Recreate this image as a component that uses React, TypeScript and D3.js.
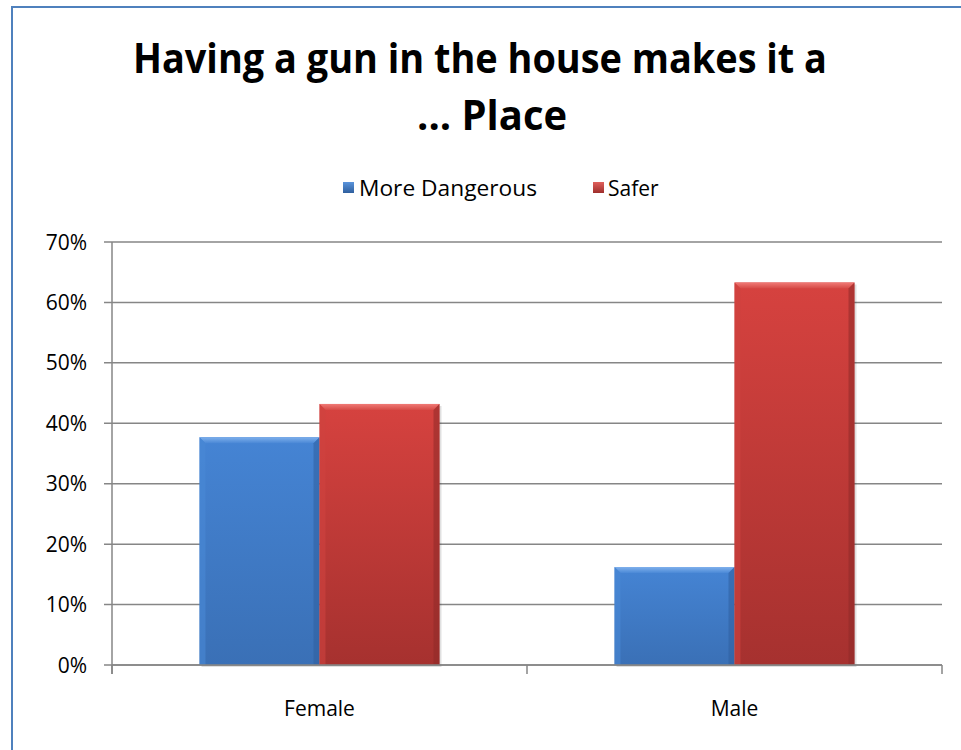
import React from "react";
import * as d3 from "d3";

const categories = ["Female", "Male"];
const seriesNames = ["More Dangerous", "Safer"];
const moreDangerous = [0.377, 0.162];
const safer = [0.432, 0.633];
const yTicks = [0, 0.1, 0.2, 0.3, 0.4, 0.5, 0.6, 0.7];
const titleLines = ["Having a gun in the house makes it a", "... Place"];

const W = 961;
const H = 750;
const plot = { left: 112, right: 942, top: 242, bottom: 665 };
const FONT = "'Open Sans', 'Noto Sans', sans-serif";

export default function App() {
  const x0 = d3.scaleBand<string>().domain(categories).range([plot.left, plot.right]).padding(0);
  const groupFrac = 240 / 415;
  const bw = x0.bandwidth();
  const x1 = d3
    .scaleBand<string>()
    .domain(seriesNames)
    .range([(bw * (1 - groupFrac)) / 2, (bw * (1 + groupFrac)) / 2])
    .padding(0);
  const y = d3.scaleLinear().domain([0, 0.7]).range([plot.bottom, plot.top]);
  const fmt = d3.format(".0%");
  const seriesValues = [moreDangerous, safer];
  const ids = ["blue", "red"];

  const bars: React.ReactNode[] = [];
  categories.forEach((c, ci) => {
    seriesNames.forEach((s, si) => {
      const v = seriesValues[si][ci];
      const bx = (x0(c) as number) + (x1(s) as number);
      const by = y(v);
      const bwid = x1.bandwidth();
      const bh = y(0) - by;
      const id = ids[si];
      const b = 6;
      bars.push(
        <g key={c + s}>
          <rect x={bx + 2} y={by + 2} width={bwid} height={bh} fill="#000" opacity={0.12} />
          <rect x={bx} y={by} width={bwid} height={bh} fill={`url(#g-${id})`} />
          <polygon
            points={`${bx},${by} ${bx + bwid},${by} ${bx + bwid - b},${by + b} ${bx + b},${by + b}`}
            fill={`url(#top-${id})`}
          />
          <polygon
            points={`${bx},${by} ${bx + b},${by + b} ${bx + b},${by + bh} ${bx},${by + bh}`}
            fill={id === "blue" ? "#4a88d6" : "#cf4340"}
            opacity={0.6}
          />
          <polygon
            points={`${bx + bwid},${by} ${bx + bwid - b},${by + b} ${bx + bwid - b},${by + bh} ${bx + bwid},${by + bh}`}
            fill={id === "blue" ? "#2f5f9e" : "#8e2a28"}
            opacity={0.55}
          />
        </g>
      );
    });
  });

  return (
    <div style={{ position: "absolute", left: 0, top: 0 }}>
      <svg width={W} height={H} style={{ display: "block", background: "#fff" }}>
        <defs>
          <linearGradient id="g-blue" x1="0" y1="0" x2="0" y2="1">
            <stop offset="0" stopColor="#4584d4" />
            <stop offset="1" stopColor="#3a70b6" />
          </linearGradient>
          <linearGradient id="g-red" x1="0" y1="0" x2="0" y2="1">
            <stop offset="0" stopColor="#d6423f" />
            <stop offset="1" stopColor="#a6312f" />
          </linearGradient>
          <linearGradient id="top-blue" x1="0" y1="0" x2="0" y2="1">
            <stop offset="0" stopColor="#7fb0ec" />
            <stop offset="1" stopColor="#4a88d6" />
          </linearGradient>
          <linearGradient id="top-red" x1="0" y1="0" x2="0" y2="1">
            <stop offset="0" stopColor="#f07a76" />
            <stop offset="1" stopColor="#d64a46" />
          </linearGradient>
          <linearGradient id="leg-blue" x1="0" y1="0" x2="0" y2="1">
            <stop offset="0" stopColor="#5a94dc" />
            <stop offset="1" stopColor="#2f5f9e" />
          </linearGradient>
          <linearGradient id="leg-red" x1="0" y1="0" x2="0" y2="1">
            <stop offset="0" stopColor="#e0605c" />
            <stop offset="1" stopColor="#9e2e2c" />
          </linearGradient>
        </defs>

        {/* frame */}
        <rect x={12} y={7} width={980} height={780} fill="none" stroke="#4f81bd" strokeWidth={2} />

        {/* title */}
        <text
          x={480}
          y={73}
          textAnchor="middle"
          fontFamily={FONT}
          fontWeight={700}
          fontSize={41}
          textLength={694}
          lengthAdjust="spacingAndGlyphs"
          fill="#000"
        >
          {titleLines[0]}
        </text>
        <text
          x={492}
          y={130}
          textAnchor="middle"
          fontFamily={FONT}
          fontWeight={700}
          fontSize={41}
          textLength={150}
          lengthAdjust="spacingAndGlyphs"
          fill="#000"
        >
          {titleLines[1]}
        </text>

        {/* legend */}
        <rect x={343} y={182} width={11} height={11} fill="url(#leg-blue)" />
        <text x={359} y={196} fontFamily={FONT} fontSize={21} fill="#000" textLength={178} lengthAdjust="spacingAndGlyphs">
          {seriesNames[0]}
        </text>
        <rect x={593} y={182} width={11} height={11} fill="url(#leg-red)" />
        <text x={608} y={196} fontFamily={FONT} fontSize={21} fill="#000">
          {seriesNames[1]}
        </text>

        {/* gridlines + y ticks */}
        {yTicks.map((t) => (
          <g key={t}>
            <line x1={104} x2={plot.right} y1={y(t)} y2={y(t)} stroke="#868686" strokeWidth={1.5} />
            <text x={87} y={y(t) + 7.5} textAnchor="end" fontFamily={FONT} fontSize={21} fill="#000">
              {fmt(t)}
            </text>
          </g>
        ))}
        <line x1={plot.left} x2={plot.left} y1={plot.top} y2={plot.bottom + 9} stroke="#868686" strokeWidth={1.5} />

        {bars}

        {/* x axis */}
        <line x1={plot.left} x2={plot.right} y1={plot.bottom} y2={plot.bottom} stroke="#868686" strokeWidth={1.5} />
        {[plot.left, ...categories.map((c) => (x0(c) as number) + bw)].map((xx, i) => (
          <line key={i} x1={xx} x2={xx} y1={plot.bottom} y2={plot.bottom + 9} stroke="#868686" strokeWidth={1.5} />
        ))}
        {categories.map((c) => (
          <text
            key={c}
            x={(x0(c) as number) + bw / 2}
            y={716}
            textAnchor="middle"
            fontFamily={FONT}
            fontSize={21}
            fill="#000"
          >
            {c}
          </text>
        ))}
      </svg>
    </div>
  );
}
